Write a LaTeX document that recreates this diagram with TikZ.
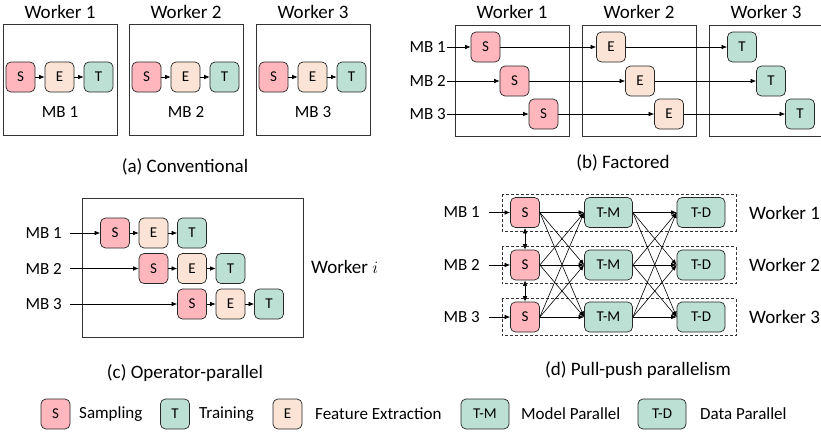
\documentclass[tikz,border=0pt]{standalone}
\usepackage{fontspec}
\setmainfont{Carlito}
\usetikzlibrary{arrows.meta}
\definecolor{samplecol}{RGB}{255,182,188}
\definecolor{featcol}{RGB}{251,228,214}
\definecolor{traincol}{RGB}{189,224,213}
\tikzset{
  opbox/.style={draw=black!85, line width=0.7pt, rounded corners=5pt, minimum width=29pt, minimum height=30pt, inner sep=0pt, font=\fontsize{15}{15}\selectfont},
  widebox/.style={opbox, minimum width=48pt},
  workerbox/.style={draw=black!80, line width=0.8pt},
  groupbox/.style={draw=black!80, line width=0.7pt, dash pattern=on 3pt off 2pt},
  flowarrow/.style={-{Latex[length=5.5pt,width=4.5pt]}, line width=0.6pt},
  bothways/.style={{Latex[length=5.5pt,width=4.5pt]}-{Latex[length=5.5pt,width=4.5pt]}, line width=0.6pt},
  headlabel/.style={font=\fontsize{19}{19}\selectfont, inner sep=0pt},
  mblabel/.style={font=\fontsize{17}{17}\selectfont, inner sep=0pt},
  caption/.style={font=\fontsize{19}{19}\selectfont},
  keytext/.style={font=\fontsize{17}{17}\selectfont, anchor=west, inner sep=0pt}
}
\newcommand{\opnode}[4] {\node at (#1) (#2) [opbox, fill=#3] {#4};}
\newcommand{\wideopnode}[3] {\node at (#1) (#2) [widebox, fill=traincol] {#3};}
\newcommand{\flow}[2] {\draw [flowarrow] (#1) -- (#2);}

\begin{document}
\begin{tikzpicture}[x=1pt, y=-1pt]
\useasboundingbox (0,0) rectangle (821,431);

% (a) conventional
\foreach \i/\x in {1/3,2/129,3/256} {
  \draw [workerbox] (\x,24) rectangle ++(114,111);
  \node [headlabel] at (\x+57,12) {Worker \i};
  \opnode{\x+17.5,77}{aS\i}{samplecol}{S}
  \opnode{\x+56.5,77}{aE\i}{featcol}{E}
  \opnode{\x+95.5,77}{aT\i}{traincol}{T}
  \flow{aS\i}{aE\i}
  \flow{aE\i}{aT\i}
  \node [mblabel] at (\x+57,112) {MB \i};
}
\node [caption] at (185,167) {(a) Conventional};

% (b) factored
\foreach \w/\x in {1/455,2/582,3/709} {
  \draw [workerbox] (\x,25) rectangle ++(114,111);
  \node [headlabel] at (\x+57,12) {Worker \w};
}
\foreach \i/\y/\d in {1/47/0,2/81/29,3/114/58} {
  \node [mblabel, inner xsep=1pt, anchor=east] (bMB\i) at (447,\y) {MB \i};
  \opnode{485.5+\d,\y}{bS\i}{samplecol}{S}
  \opnode{611+\d,\y}{bE\i}{featcol}{E}
  \opnode{742+\d,\y}{bT\i}{traincol}{T}
  \flow{bMB\i}{bS\i}
  \flow{bS\i}{bE\i}
  \flow{bE\i}{bT\i}
}
\node [caption] at (623,163) {(b) Factored};

% (c) operator-parallel
\draw [workerbox] (82,198) rectangle (303,337);
\foreach \i/\y/\d in {1/233/0,2/268.5/38.5,3/304/77} {
  \node [mblabel, inner xsep=8pt, anchor=east] (cMB\i) at (70,\y) {MB \i};
  \opnode{115+\d,\y}{cS\i}{samplecol}{S}
  \opnode{153.5+\d,\y}{cE\i}{featcol}{E}
  \opnode{192+\d,\y}{cT\i}{traincol}{T}
  \flow{cMB\i}{cS\i}
  \flow{cS\i}{cE\i}
  \flow{cE\i}{cT\i}
}
\node [headlabel, anchor=west] at (311,267) {Worker $i$};
\node [caption] at (185,373) {(c) Operator-parallel};

% (d) pull-push parallelism
\foreach \i/\y in {1/212.5,2/265,3/317} {
  \draw [groupbox] (502,\y-18.5) rectangle (736,\y+18.5);
  \node [mblabel, inner xsep=9pt, anchor=east] (dMB\i) at (489,\y) {MB \i};
  \opnode{525,\y}{dS\i}{samplecol}{S}
  \wideopnode{608.5,\y}{dM\i}{T-M}
  \wideopnode{701,\y}{dD\i}{T-D}
  \flow{dMB\i}{dS\i}
  \node [headlabel, anchor=west] at (749,\y) {Worker \i};
}
\draw [bothways] (dS1) -- (dS2);
\draw [bothways] (dS2) -- (dS3);
\foreach \i in {1,2,3}
  \foreach \j in {1,2,3} {
    \flow{dS\i.east}{dM\j.west}
    \flow{dM\i.east}{dD\j.west}
  }
\node [caption] at (638,370) {(d) Pull-push parallelism};

% legend
\opnode{55.5,414}{kS}{samplecol}{S}
\node [keytext] at (79,414) {Sampling};
\opnode{175,414}{kT}{traincol}{T}
\node [keytext] at (199,414) {Training};
\opnode{287.5,414}{kE}{featcol}{E}
\node [keytext] at (315,414) {Feature Extraction};
\wideopnode{485,414}{kM}{T-M}
\node [keytext] at (521,414) {Model Parallel};
\wideopnode{662,414}{kD}{T-D}
\node [keytext] at (700,414) {Data Parallel};

\end{tikzpicture}
\end{document}
